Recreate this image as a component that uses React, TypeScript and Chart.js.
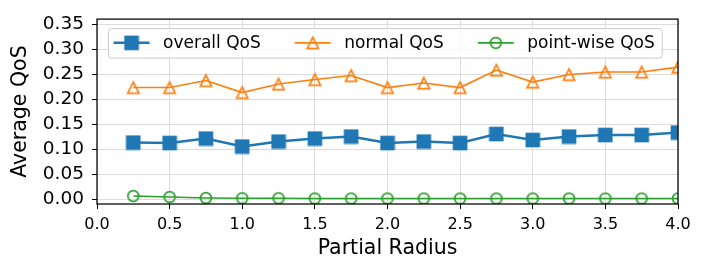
import React, { useEffect, useRef } from 'react';
import { Chart, registerables } from 'chart.js';

Chart.register(...registerables);

const xValues = [0.25, 0.5, 0.75, 1.0, 1.25, 1.5, 1.75, 2.0, 2.25, 2.5, 2.75, 3.0, 3.25, 3.5, 3.75, 4.0];
const overallQoS = [0.113, 0.112, 0.121, 0.105, 0.115, 0.121, 0.125, 0.112, 0.115, 0.112, 0.130, 0.118, 0.125, 0.128, 0.128, 0.133];
const normalQoS = [0.223, 0.223, 0.237, 0.213, 0.230, 0.239, 0.247, 0.223, 0.232, 0.223, 0.258, 0.234, 0.249, 0.254, 0.254, 0.264];
const pointwiseQoS = [0.006, 0.004, 0.002, 0.0015, 0.0015, 0.001, 0.001, 0.001, 0.001, 0.001, 0.001, 0.001, 0.001, 0.001, 0.001, 0.001];
const seriesLabels = ['overall QoS', 'normal QoS', 'point-wise QoS'];
const xTicks = [0, 0.5, 1.0, 1.5, 2.0, 2.5, 3.0, 3.5, 4.0];
const yTicks = [0, 0.05, 0.1, 0.15, 0.2, 0.25, 0.3, 0.35];
const xTitle = 'Partial Radius';
const yTitle = 'Average QoS';

const FONT = '"DejaVu Sans", "Liberation Sans", sans-serif';
const BLUE = '#1f77b4';
const ORANGE = '#ff7f0e';
const GREEN = '#2ca02c';

function makeMarker(kind: string, color: string): HTMLCanvasElement {
  const c = document.createElement('canvas');
  c.width = 16;
  c.height = 16;
  const g = c.getContext('2d')!;
  if (kind === 'square') {
    g.fillStyle = color;
    g.fillRect(0.7, 0.7, 14.6, 14.6);
  } else if (kind === 'triangle') {
    g.strokeStyle = color;
    g.lineWidth = 1.7;
    g.lineJoin = 'miter';
    g.beginPath();
    g.moveTo(8, 2.4);
    g.lineTo(2.4, 13.6);
    g.lineTo(13.6, 13.6);
    g.closePath();
    g.stroke();
  } else {
    g.strokeStyle = color;
    g.lineWidth = 1.7;
    g.beginPath();
    g.arc(8, 8, 5.4, 0, Math.PI * 2);
    g.stroke();
  }
  return c;
}

const spinePlugin = {
  id: 'spines',
  afterDatasetsDraw(chart: any) {
    const { ctx, chartArea: a } = chart;
    ctx.save();
    ctx.strokeStyle = '#000';
    ctx.lineWidth = 1.25;
    ctx.strokeRect(a.left, a.top, a.right - a.left, a.bottom - a.top);
    ctx.restore();
  },
};

const legendPlugin = {
  id: 'mplLegend',
  afterDraw(chart: any) {
    const { ctx, chartArea } = chart;
    const fs = 17;
    ctx.save();
    ctx.font = `${fs}px ${FONT}`;
    const left = chartArea.left + 11;
    const top = chartArea.top + 9;
    const h = 29.5;
    const pad = 5.5;
    const handleLen = 36;
    const textPad = 13.5;
    const colSpace = 34;
    let x = left + pad;
    const items = chart.data.datasets.map((ds: any) => {
      const w = ctx.measureText(ds.label).width;
      const it = { ds, x, w };
      x += handleLen + textPad + w + colSpace;
      return it;
    });
    const right = x - colSpace + 7;
    const r = 3;
    const L = left + 0.5;
    const T = top + 0.5;
    const W = right - left;
    ctx.beginPath();
    ctx.moveTo(L + r, T);
    ctx.lineTo(L + W - r, T);
    ctx.arcTo(L + W, T, L + W, T + r, r);
    ctx.lineTo(L + W, T + h - r);
    ctx.arcTo(L + W, T + h, L + W - r, T + h, r);
    ctx.lineTo(L + r, T + h);
    ctx.arcTo(L, T + h, L, T + h - r, r);
    ctx.lineTo(L, T + r);
    ctx.arcTo(L, T, L + r, T, r);
    ctx.closePath();
    ctx.fillStyle = 'rgba(255,255,255,0.8)';
    ctx.fill();
    ctx.strokeStyle = '#cccccc';
    ctx.lineWidth = 1;
    ctx.stroke();
    const cy = top + h / 2;
    items.forEach((it: any) => {
      ctx.beginPath();
      ctx.strokeStyle = it.ds.borderColor;
      ctx.lineWidth = it.ds.borderWidth;
      ctx.moveTo(it.x, cy);
      ctx.lineTo(it.x + handleLen, cy);
      ctx.stroke();
      const img = it.ds.pointStyle as HTMLCanvasElement;
      ctx.drawImage(img, it.x + handleLen / 2 - img.width / 2, cy - img.height / 2);
      ctx.fillStyle = '#000';
      ctx.textBaseline = 'middle';
      ctx.textAlign = 'left';
      ctx.fillText(it.ds.label, it.x + handleLen + textPad, cy + 0.5);
    });
    ctx.restore();
  },
};

export default function App() {
  const ref = useRef<HTMLCanvasElement>(null);
  useEffect(() => {
    document.body.style.margin = '0';
    const canvas = ref.current!;
    const mk = (ys: number[]) => xValues.map((x, i) => ({ x, y: ys[i] }));
    const chart = new Chart(canvas, {
      type: 'line',
      data: {
        datasets: [
          {
            label: seriesLabels[0],
            data: mk(overallQoS),
            borderColor: BLUE,
            backgroundColor: BLUE,
            borderWidth: 2.5,
            pointStyle: makeMarker('square', BLUE) as any,
            pointRadius: 7,
            tension: 0,
            clip: 0 as any,
          },
          {
            label: seriesLabels[1],
            data: mk(normalQoS),
            borderColor: ORANGE,
            backgroundColor: ORANGE,
            borderWidth: 1.6,
            pointStyle: makeMarker('triangle', ORANGE) as any,
            pointRadius: 7,
            tension: 0,
            clip: 0 as any,
          },
          {
            label: seriesLabels[2],
            data: mk(pointwiseQoS),
            borderColor: GREEN,
            backgroundColor: GREEN,
            borderWidth: 1.6,
            pointStyle: makeMarker('circle', GREEN) as any,
            pointRadius: 7,
            tension: 0,
            clip: 0 as any,
          },
        ],
      },
      options: {
        responsive: false,
        animation: false,
        events: [],
        layout: { padding: { left: 0, right: 27, top: 15, bottom: 0 } },
        plugins: {
          legend: { display: false },
          tooltip: { enabled: false },
        },
        scales: {
          x: {
            type: 'linear',
            min: 0,
            max: 4,
            afterBuildTicks: (s: any) => {
              s.ticks = xTicks.map((v) => ({ value: v }));
            },
            afterFit: (s: any) => {
              s.height = 69;
            },
            ticks: {
              font: { family: FONT, size: 16 },
              color: '#000',
              padding: 6,
              maxRotation: 0,
              autoSkip: false,
              callback: (v: any) => Number(v).toFixed(1),
            },
            grid: {
              color: '#dcdcdc',
              lineWidth: 1,
              tickColor: '#000',
              tickLength: 5,
              tickWidth: 1,
            },
            border: { display: false },
            title: {
              display: true,
              text: xTitle,
              color: '#000',
              font: { family: FONT, size: 20.5 },
              padding: { top: 0, bottom: 12 },
            },
          },
          y: {
            type: 'linear',
            min: -0.01,
            max: 0.36,
            afterBuildTicks: (s: any) => {
              s.ticks = yTicks.map((v) => ({ value: v }));
            },
            afterFit: (s: any) => {
              s.width = 97;
            },
            ticks: {
              font: { family: FONT, size: 18.5 },
              color: '#000',
              padding: 8,
              autoSkip: false,
              callback: (v: any) => Number(v).toFixed(2),
            },
            grid: {
              color: '#dcdcdc',
              lineWidth: 1,
              tickColor: '#000',
              tickLength: 5,
              tickWidth: 1,
            },
            border: { display: false },
            title: {
              display: true,
              text: yTitle,
              color: '#000',
              font: { family: FONT, size: 20.5 },
              padding: { top: 8, bottom: 0 },
            },
          },
        },
      },
      plugins: [spinePlugin, legendPlugin],
    });
    return () => chart.destroy();
  }, []);
  return (
    <div style={{ position: 'absolute', left: 0, top: 0, width: 705, height: 273, background: '#fff' }}>
      <canvas ref={ref} width={705} height={273} style={{ display: 'block' }} />
    </div>
  );
}
